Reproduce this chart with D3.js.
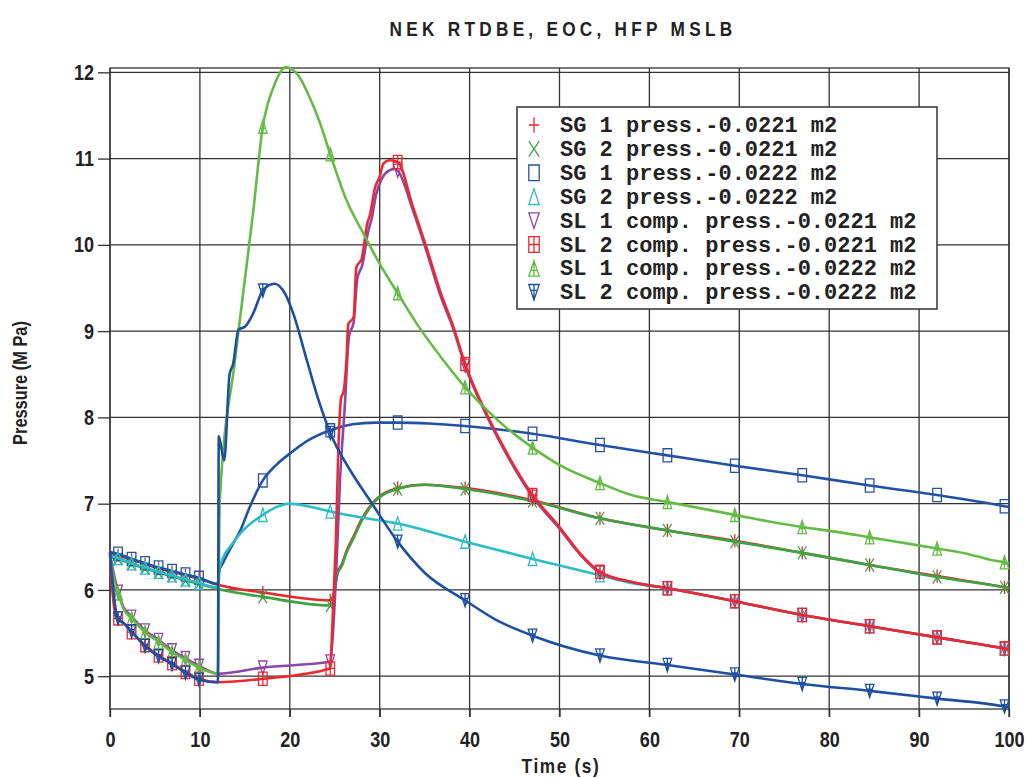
<!DOCTYPE html>
<html>
<head>
<meta charset="utf-8">
<script src="https://cdn.jsdelivr.net/npm/d3@7"></script>
<style>
  body { margin: 0; background: #fff; }
  svg text { fill: #222; }
  /* no narrow font installed: squeeze Liberation Sans */
  .lbl { font-family: "Liberation Sans", Arial, sans-serif; font-weight: bold;
         transform-box: fill-box; transform-origin: center; transform: scaleX(0.82); }
  .leg { font-family: "Liberation Mono", "Courier New", monospace; font-weight: bold; font-size: 22px; }
</style>
</head>
<body>
<svg id="chart" width="1027" height="778"></svg>
<script>
// marker positions (s), same for every curve
var markerTimes = [0.9, 2.4, 3.9, 5.4, 6.9, 8.4, 9.9, 17, 24.5, 32, 39.5, 47, 54.5, 62, 69.5, 77, 84.5, 92, 99.5];

var xTicks = [0, 10, 20, 30, 40, 50, 60, 70, 80, 90, 100];
var yTicks = [5, 6, 7, 8, 9, 10, 11, 12];

// [time s, pressure MPa]
var sg1_0221 = [[0,6.42],[0.9,6.40],[2.4,6.35],[3.9,6.30],[5.4,6.25],[6.9,6.21],[8.4,6.17],[9.9,6.13],[12,6.06],
  [17,5.97],[24.5,5.88],[24.8,5.92],[25.3,6.2],[25.8,6.3],[26.3,6.45],[27,6.6],[28,6.82],[29.5,7.04],[32,7.18],
  [35,7.22],[39.5,7.18],[47,7.04],[54.5,6.83],[62,6.69],[69.5,6.57],[77,6.43],[84.5,6.29],[92,6.16],[99.5,6.03],[100,6.02]];
var sg2_0221 = [[0,6.38],[0.9,6.36],[2.4,6.30],[3.9,6.25],[5.4,6.20],[6.9,6.16],[8.4,6.11],[9.9,6.07],[12,6.01],
  [17,5.92],[24.5,5.82],[24.8,5.88],[25.3,6.18],[25.8,6.28],[26.3,6.43],[27,6.58],[28,6.8],[29.5,7.03],[32,7.17],
  [35,7.22],[39.5,7.17],[47,7.03],[54.5,6.83],[62,6.69],[69.5,6.56],[77,6.43],[84.5,6.29],[92,6.15],[99.5,6.03],[100,6.02]];
var sg1_0222 = [[0,6.44],[0.9,6.42],[2.4,6.36],[3.9,6.31],[5.4,6.26],[6.9,6.22],[8.4,6.18],[9.9,6.14],[12,6.07],
  [12.1,6.2],[12.6,6.32],[13.5,6.5],[14.5,6.69],[15.5,6.95],[17,7.27],[18.5,7.45],[20,7.58],[22,7.73],[24.5,7.85],
  [27,7.92],[29.5,7.94],[32,7.94],[35.5,7.93],[39.5,7.9],[47,7.81],[54.5,7.68],[62,7.56],[69.5,7.44],[77,7.33],
  [84.5,7.21],[92,7.10],[99.5,6.97],[100,6.96]];
var sg2_0222 = [[0,6.40],[0.9,6.37],[2.4,6.31],[3.9,6.26],[5.4,6.21],[6.9,6.17],[8.4,6.12],[9.9,6.08],[12,6.03],
  [12.2,6.25],[12.6,6.38],[13.5,6.52],[14.8,6.69],[17,6.87],[18.5,6.96],[20,7.0],[22,6.97],[24.5,6.91],[28,6.84],
  [32,6.77],[39.5,6.56],[47,6.36],[54.5,6.17],[58,6.08],[62,6.02],[69.5,5.87],[77,5.71],[84.5,5.58],[92,5.45],
  [99.5,5.32],[100,5.31]];
var sl1_0221 = [[0,6.42],[0.3,6.25],[0.9,5.98],[1.5,5.8],[2.4,5.69],[3.9,5.53],[5.4,5.42],[6.9,5.30],[8.4,5.21],
  [9.9,5.12],[12,5.03],[17,5.1],[24.5,5.17],[24.8,5.5],[25.2,6.3],[25.6,7.3],[26.1,8.1],[26.6,8.95],[27.1,9.1],
  [27.5,9.6],[28.1,9.78],[28.7,10.15],[29.1,10.3],[29.6,10.58],[30.2,10.76],[31,10.86],[31.6,10.88],[32,10.86],
  [33.7,10.4],[35.2,9.93],[36.7,9.43],[38.2,9.02],[39.5,8.6],[41.9,8.02],[43.4,7.71],[47,7.08],[50,6.71],
  [52.3,6.41],[54.5,6.2],[58.2,6.09],[62,6.02],[69.5,5.87],[77,5.71],[84.5,5.58],[92,5.45],[99.5,5.32],[100,5.31]];
var sl2_0221 = [[0,6.42],[0.3,5.95],[0.6,5.72],[0.9,5.67],[1.5,5.62],[2.4,5.51],[3.9,5.36],[5.4,5.24],[6.9,5.15],
  [8.4,5.05],[9.9,4.97],[12,4.93],[17,4.97],[24.5,5.09],[24.7,5.5],[25.1,6.5],[25.5,7.9],[25.7,8.22],[26,8.31],
  [26.3,8.66],[26.5,9.08],[27.1,9.16],[27.4,9.74],[28,9.84],[28.6,10.24],[28.9,10.34],[29.5,10.67],[30,10.79],
  [30.4,10.94],[31.1,10.98],[32,10.96],[33.7,10.44],[35.2,9.97],[36.7,9.47],[38.2,9.05],[39.5,8.62],[41.9,8.04],
  [43.4,7.73],[47,7.1],[50,6.73],[52.3,6.42],[54.5,6.21],[58.2,6.09],[62,6.02],[69.5,5.87],[77,5.71],[84.5,5.58],
  [92,5.45],[99.5,5.32],[100,5.31]];
var sl1_0222 = [[0,6.40],[0.2,6.27],[0.55,6.07],[0.9,5.96],[1.5,5.78],[2.4,5.67],[3.9,5.51],[5.4,5.40],[6.9,5.28],
  [8.4,5.19],[9.9,5.10],[12,5.03],[12.2,7.0],[13.9,8.66],[14.8,9.43],[15.9,10.36],[17,11.37],[18.2,11.83],
  [19.6,12.06],[21.1,11.94],[22.2,11.71],[23.4,11.40],[24.5,11.05],[26.3,10.52],[28.2,10.13],[30,9.78],[32,9.44],
  [34.1,9.09],[37.1,8.66],[39.5,8.35],[43,7.98],[47,7.65],[50.5,7.42],[54.5,7.24],[58,7.1],[62,7.02],[66,6.94],
  [69.5,6.87],[73,6.8],[77,6.73],[81,6.67],[84.5,6.61],[88,6.55],[92,6.48],[95.3,6.42],[97.9,6.35],[99.5,6.32],[100,6.31]];
var sl2_0222 = [[0,6.44],[0.45,5.92],[0.74,5.71],[0.9,5.67],[1.67,5.6],[2.4,5.52],[3.9,5.35],[5.4,5.23],[6.9,5.14],
  [8.4,5.04],[9.9,4.96],[12,4.93],[12.1,7.78],[12.7,7.5],[13.3,8.5],[13.7,8.62],[14.3,9.02],[15,9.05],[15.9,9.2],
  [17,9.47],[18.3,9.55],[19.5,9.43],[20.4,9.2],[21.9,8.66],[23.2,8.2],[24.5,7.82],[26.7,7.39],[28.9,7.04],[32,6.56],
  [35,6.2],[39.5,5.88],[43,5.65],[47,5.47],[54.5,5.24],[62,5.13],[69.5,5.02],[77,4.91],[84.5,4.83],[92,4.74],
  [99.5,4.65],[100,4.64]];

var seriesNames = ["SG 1 press.-0.0221 m2", "SG 2 press.-0.0221 m2", "SG 1 press.-0.0222 m2", "SG 2 press.-0.0222 m2",
  "SL 1 comp. press.-0.0221 m2", "SL 2 comp. press.-0.0221 m2", "SL 1 comp. press.-0.0222 m2", "SL 2 comp. press.-0.0222 m2"];
var seriesData = [sg1_0221, sg2_0221, sg1_0222, sg2_0222, sl1_0221, sl2_0221, sl1_0222, sl2_0222];
var seriesColors = ["#e8262d", "#3da444", "#2452a3", "#2bbcc4", "#8c47a8", "#ea2a30", "#66bb45", "#1f4fa0"];
var seriesMarkers = ["plus", "cross", "rect", "triUp", "triDown", "rectGrid", "triUpLines", "triDownLines"];

var svg = d3.select("#chart");
var x = d3.scaleLinear().domain([0, 100]).range([110, 1009]);
var y = d3.scaleLinear().domain([4.62, 12.05]).range([709, 68]);

// marker paths, w/h = half sizes
function markerPath(type, w, h) {
    var tri = "M0," + (-h) + "L" + w + "," + h + "L" + (-w) + "," + h + "Z";
    var triD = "M0," + h + "L" + w + "," + (-h) + "L" + (-w) + "," + (-h) + "Z";
    var box = "M" + (-w) + "," + (-h) + "H" + w + "V" + h + "H" + (-w) + "Z";
    var plus = "M0," + (-h) + "V" + h + "M" + (-w) + ",0H" + w;
    switch (type) {
        case "plus": return plus;
        case "cross": return "M" + (-w) + "," + (-h) + "L" + w + "," + h + "M" + w + "," + (-h) + "L" + (-w) + "," + h;
        case "rect": return box;
        case "triUp": return tri;
        case "triDown": return triD;
        case "rectGrid": return box + plus;
        case "triUpLines": return tri + "M0," + (-h) + "V" + h + "M" + (-w * 0.6) + "," + (h * 0.25) + "H" + (w * 0.6);
        case "triDownLines": return triD + "M0," + h + "V" + (-h) + "M" + (-w * 0.6) + "," + (-h * 0.25) + "H" + (w * 0.6);
    }
}

// grid
var grid = svg.append("g").attr("stroke", "#333").attr("stroke-width", 1.3);
grid.selectAll("line.h").data(yTicks).enter().append("line")
    .attr("x1", 110).attr("x2", 1009)
    .attr("y1", function (d) { return y(d); }).attr("y2", function (d) { return y(d); });
grid.selectAll("line.v").data(xTicks).enter().append("line")
    .attr("x1", function (d) { return x(d); }).attr("x2", function (d) { return x(d); })
    .attr("y1", 68).attr("y2", 717);
grid.append("rect").attr("x", 110).attr("y", 68).attr("width", 899).attr("height", 641).attr("fill", "none");

// axes
var yAxis = svg.append("g").attr("transform", "translate(110,0)")
    .call(d3.axisLeft(y).tickValues(yTicks).tickSize(12).tickPadding(4).tickFormat(d3.format("d")));
var xAxis = svg.append("g").attr("transform", "translate(0,709)")
    .call(d3.axisBottom(x).tickValues(xTicks).tickSize(8).tickPadding(14).tickFormat(d3.format("d")));
[yAxis, xAxis].forEach(function (a) {
    a.select(".domain").remove();
    a.selectAll("line").attr("stroke", "#333").attr("stroke-width", 1.3);
    a.selectAll("text").attr("class", "lbl").style("font-size", "22px").attr("fill", "#222");
});
// y labels: keep right edge at x≈94 after squeezing
yAxis.selectAll("text").style("transform-origin", "right center");

// curves
var line = d3.line()
    .x(function (d) { return x(d[0]); })
    .y(function (d) { return y(d[1]); })
    .curve(d3.curveMonotoneX);
var mset = new Set(markerTimes);

seriesData.forEach(function (data, i) {
    var g = svg.append("g");
    g.append("path").attr("d", line(data)).attr("fill", "none")
        .attr("stroke", seriesColors[i]).attr("stroke-width", 2.6).attr("stroke-linejoin", "round");
    g.selectAll("path.m").data(data.filter(function (d) { return mset.has(d[0]); }))
        .enter().append("path")
        .attr("transform", function (d) { return "translate(" + x(d[0]) + "," + y(d[1]) + ")"; })
        .attr("d", markerPath(seriesMarkers[i], 4.3, 6.6))
        .attr("fill", "none").attr("stroke", seriesColors[i]).attr("stroke-width", 1.3);
});

// legend
var legend = svg.append("g");
legend.append("rect").attr("x", 517).attr("y", 107).attr("width", 420).attr("height", 202)
    .attr("fill", "#fff").attr("stroke", "#333").attr("stroke-width", 1.5);
var rows = legend.selectAll("g.row").data(seriesNames).enter().append("g")
    .attr("transform", function (d, i) { return "translate(0," + (125 + i * 23.9) + ")"; });
rows.append("path")
    .attr("transform", "translate(534,0)")
    .attr("d", function (d, i) { return markerPath(seriesMarkers[i], 5.2, 7.8); })
    .attr("fill", "none").attr("stroke", function (d, i) { return seriesColors[i]; }).attr("stroke-width", 1.3);
rows.append("text").attr("class", "leg").attr("x", 560).attr("y", 7).text(function (d) { return d; });

// titles
svg.append("text").attr("class", "lbl").attr("x", 563).attr("y", 36).attr("text-anchor", "middle")
    .style("font-size", "21px").style("letter-spacing", "5.2px").text("NEK RTDBE, EOC, HFP MSLB");
svg.append("text").attr("class", "lbl").attr("x", 561).attr("y", 773).attr("text-anchor", "middle")
    .style("font-size", "21px").style("letter-spacing", "2px").text("Time (s)");
svg.append("g").attr("transform", "translate(27,383) rotate(-90)")
    .append("text").attr("class", "lbl").attr("text-anchor", "middle")
    .style("font-size", "20px").text("Pressure (M Pa)");
</script>
</body>
</html>
